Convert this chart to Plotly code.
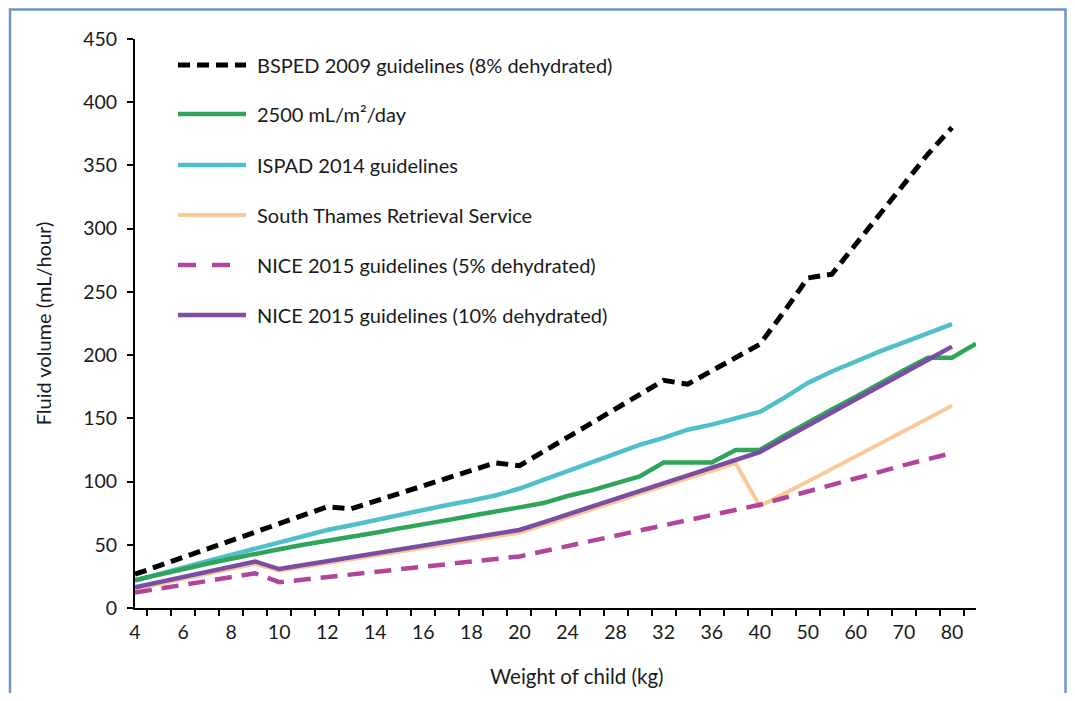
import plotly.graph_objects as go

# ---- data ----
weights = ["4", "5", "6", "7", "8", "9", "10", "11", "12", "13", "14", "15", "16", "17", "18", "19", "20",
           "22", "24", "26", "28", "30", "32", "34", "36", "38", "40",
           "45", "50", "55", "60", "65", "70", "75", "80", "85"]
tick_labels = ["4", "6", "8", "10", "12", "14", "16", "18", "20", "24", "28", "32", "36", "40",
               "50", "60", "70", "80"]

bsped_2009 = [26.7, 33.3, 40, 46.7, 53.3, 60, 66.7, 73.3, 80, 78.5, 84.6, 90.6, 96.7, 102.7, 108.8, 114.8, 112.5,
              123.8, 135, 146, 157.5, 168.8, 180, 177, 187.5, 198, 208.5,
              234, 261, 264, 288, 312, 335, 359, 380, None]
bsa_2500 = [22, 26.5, 31, 35, 39, 43, 46.5, 50, 53, 56.5, 59.5, 63, 66, 69.5, 73, 76, 79.6,
            83, 88.6, 93, 98.5, 104, 115, 115, 115, 125, 125,
            136, 147, 157, 167, 178, 188, 198, 198, 209]
ispad_2014 = [21.6, 27, 32, 37, 42, 47, 52.5, 57, 61.7, 65.5, 69.6, 74, 78, 81.5, 85, 89, 94.5,
              101.5, 108.5, 115.5, 122, 129, 134.5, 141, 145, 150, 155,
              166, 178, 187, 195, 203, 210, 217, 224.5, None]
south_thames = [15, 19, 23, 27, 31, 35, 29.5, 32.5, 35.5, 38.5, 41.5, 44.5, 47.5, 50.5, 53.5, 56.5, 59.5,
                65.5, 71.5, 77.5, 84, 90.5, 96.5, 102.5, 108.5, 114.5, 80.5,
                90, 100, 110, 120, 130, 140, 150, 160, None]
nice_5 = [12.2, 15.2, 18.3, 21.3, 24.3, 27.4, 20.4, 22.5, 24.5, 26.5, 28.6, 30.6, 32.7, 34.7, 36.8, 38.8, 40.8,
          44.9, 49, 53, 57, 61, 65, 69, 73.5, 77.6, 81.7,
          87, 92, 97, 102.5, 107.7, 113, 118, 122.5, None]
nice_10 = [16.3, 20.4, 24.5, 28.6, 32.7, 36.8, 30.8, 33.9, 37, 40.1, 43.2, 46.3, 49.3, 52.4, 55.5, 58.6, 61.7,
           67.8, 74, 80, 86.3, 92.5, 98.7, 104.8, 111, 117, 123.3,
           133.8, 144, 154.6, 165, 175.4, 185.8, 196.3, 206.7, None]

series_names = ["BSPED 2009 guidelines (8% dehydrated)", "2500 mL/m²/day", "ISPAD 2014 guidelines",
                "South Thames Retrieval Service", "NICE 2015 guidelines (5% dehydrated)",
                "NICE 2015 guidelines (10% dehydrated)"]
series_values = [bsped_2009, bsa_2500, ispad_2014, south_thames, nice_5, nice_10]
series_colors = ["#000000", "#2ea55a", "#4fc0c9", "#fbc898", "#b3449b", "#7a4ea3"]
series_dash = ["12px,7px", "solid", "solid", "solid", "17px,10px", "solid"]
series_width = [5, 4.5, 4.5, 4, 4.5, 4.5]

FONT = "Lato"
TXT = "#1a1a1a"
FS = 19.5

# the page body adds an 8px margin on every side; work in screen pixels and convert
OFF = 8
FIG_W, FIG_H = 1075 - 2 * OFF, 701 - 2 * OFF
# plot-area edges in screen pixels
SL, SR, ST, SB = 135, 976, 39, 608
L, R, T, B = SL - OFF, SR - OFF, ST - OFF, SB - OFF
W, H = R - L, B - T


def px(x):  # screen x -> paper
    return (x - SL) / W


def py(y):  # screen y -> paper
    return (SB - y) / H


fig = go.Figure()
# draw in an order so that purple sits over orange
order = [3, 4, 2, 1, 5, 0]
for i in order:
    fig.add_trace(go.Scatter(
        x=weights, y=series_values[i], name=series_names[i], mode="lines",
        line=dict(color=series_colors[i], width=series_width[i], dash=series_dash[i]),
        connectgaps=False, showlegend=False,
    ))

shapes = []
annotations = []
# manual legend matching the reference layout
legend_rows_y = [65, 114, 165, 215, 265, 315]
for i, yy in enumerate(legend_rows_y):
    shapes.append(dict(type="line", xref="paper", yref="paper",
                       x0=px(178), x1=px(246) if i != 4 else px(233), y0=py(yy), y1=py(yy),
                       line=dict(color=series_colors[i], width=series_width[i],
                                 dash=series_dash[i] if i != 4 else "18px,16px")))
    annotations.append(dict(xref="paper", yref="paper", x=px(255), y=py(yy), xanchor="left", yanchor="middle",
                            text=series_names[i], showarrow=False, font=dict(family=FONT, size=20, color=TXT)))

# outer frame of the figure (top and right edges kept inside the drawable figure area)
shapes.append(dict(type="rect", xref="paper", yref="paper", x0=px(10), x1=px(OFF + FIG_W - 1.5),
                   y0=py(760), y1=py(OFF + 1.5),
                   line=dict(color="#7393c3", width=2.5), layer="below"))

# x-axis title
annotations.append(dict(xref="paper", yref="paper", x=px(577), y=py(676), xanchor="center", yanchor="middle",
                        text="Weight of child (kg)", showarrow=False, font=dict(family=FONT, size=20.5, color=TXT)))

ticktext = [w if w in tick_labels else "" for w in weights]

fig.update_layout(
    width=FIG_W, height=FIG_H,
    margin=dict(l=L, r=FIG_W - R, t=T, b=FIG_H - B),
    paper_bgcolor="white", plot_bgcolor="white",
    font=dict(family=FONT, size=FS, color=TXT),
    shapes=shapes, annotations=annotations,
    showlegend=False,
    xaxis=dict(type="category", categoryorder="array", categoryarray=weights,
               tickmode="array", tickvals=weights, ticktext=ticktext, tickson="boundaries",
               tickangle=0, automargin=False,
               ticks="outside", ticklen=6, tickwidth=2, tickcolor="#000",
               showline=True, linecolor="#000", linewidth=2, showgrid=False, zeroline=False,
               tickfont=dict(family=FONT, size=FS, color=TXT), ticklabelstandoff=6),
    yaxis=dict(range=[0, 450], tickmode="linear", tick0=0, dtick=50, automargin=False,
               ticks="outside", ticklen=6, tickwidth=2, tickcolor="#000",
               showline=True, linecolor="#000", linewidth=2, showgrid=False, zeroline=False,
               tickfont=dict(family=FONT, size=FS, color=TXT), ticklabelstandoff=6,
               title=dict(text="Fluid volume (mL/hour)", font=dict(family=FONT, size=20, color=TXT), standoff=26)),
)

fig.write_html("out.html")
